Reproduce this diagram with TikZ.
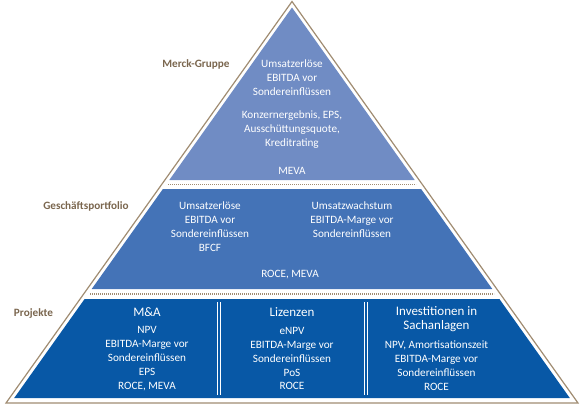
\documentclass[tikz,border=0pt]{standalone}
\usepackage{fontspec}
\setmainfont{Carlito}
\definecolor{outline}{RGB}{160,140,114}
\definecolor{labbrown}{RGB}{122,102,78}
\definecolor{topblue}{RGB}{112,140,196}
\definecolor{midblue}{RGB}{68,115,183}
\definecolor{botblue}{RGB}{8,88,166}
\begin{document}
\begin{tikzpicture}[x=1pt,y=-1pt,
  body/.style={text=white, font=\fontsize{11.2}{13.9}\selectfont, align=center, inner sep=0pt},
  head/.style={text=white, font=\fontsize{13}{14.3}\selectfont, align=center, inner sep=0pt},
  lvl/.style={text=labbrown, font=\bfseries\fontsize{11.2}{13.9}\selectfont, inner sep=0pt},
  frame/.style={draw=outline, line width=1.2pt, line join=miter},
  dots/.style={draw=outline, line width=1.5pt, dash pattern=on 1.1pt off 0.9pt},
  divider/.style={draw=white, line width=0.9pt}]
\useasboundingbox (0,0) rectangle (580,408);
% outer outline
\coordinate (apex) at (292,1.5);
\coordinate (bl) at (6,403);
\coordinate (br) at (578,403);
\draw[frame] (apex) -- (br) -- (bl) -- cycle;
% bands
\fill[topblue] (292,7.5) -- (414.7,180) -- (169.3,180) -- cycle;
\fill[midblue] (162.9,189) -- (421.1,189) -- (492.3,289) -- (91.7,289) -- cycle;
\fill[botblue] (84.6,299) -- (499.4,299) -- (569.8,398) -- (14.2,398) -- cycle;
% dotted separators
\coordinate (d1a) at (168,184.5);
\coordinate (d1b) at (416,184.5);
\coordinate (d2a) at (90,294);
\coordinate (d2b) at (494,294);
\draw[dots] (d1a) -- (d1b);
\draw[dots] (d2a) -- (d2b);
% dividers in bottom band
\coordinate (v1t) at (217.3,302); \coordinate (v1b) at (217.3,395);
\coordinate (v2t) at (220.1,302); \coordinate (v2b) at (220.1,395);
\coordinate (v3t) at (364.3,302); \coordinate (v3b) at (364.3,395);
\coordinate (v4t) at (367.1,302); \coordinate (v4b) at (367.1,395);
\draw[divider] (v1t) -- (v1b);
\draw[divider] (v2t) -- (v2b);
\draw[divider] (v3t) -- (v3b);
\draw[divider] (v4t) -- (v4b);
% level labels
\node[lvl] (lg) at (196,64) {Merck-Gruppe};
\node[lvl] (lp) at (86,206) {Geschäftsportfolio};
\node[lvl] (lj) at (33.5,314) {Projekte};
% top triangle
\node[body] (t1) at (292,77.7) {Umsatzerlöse\\EBITDA vor\\Sondereinflüssen};
\node[body] (t2) at (292,129.2) {Konzernergebnis, EPS,\\Ausschüttungsquote,\\Kreditrating};
\node[body] (t3) at (292,171) {MEVA};
% middle band
\node[body] (m1) at (210,226.4) {Umsatzerlöse\\EBITDA vor\\Sondereinflüssen\\BFCF};
\node[body] (m2) at (352,219.4) {Umsatzwachstum\\EBITDA-Marge vor\\Sondereinflüssen};
\node[body] (m3) at (290,275) {ROCE, MEVA};
% bottom band
\node[head] (h1) at (147,312) {M\&A};
\node[body] (b1) at (147,358.6) {NPV\\EBITDA-Marge vor\\Sondereinflüssen\\EPS\\ROCE, MEVA};
\node[head] (h2) at (292,312) {Lizenzen};
\node[body] (b2) at (292,358.6) {eNPV\\EBITDA-Marge vor\\Sondereinflüssen\\PoS\\ROCE};
\node[head] (h3) at (436.5,319.2) {Investitionen in\\Sachanlagen};
\node[body] (b3) at (436.5,365.8) {NPV, Amortisationszeit\\EBITDA-Marge vor\\Sondereinflüssen\\ROCE};
\end{tikzpicture}
\end{document}
